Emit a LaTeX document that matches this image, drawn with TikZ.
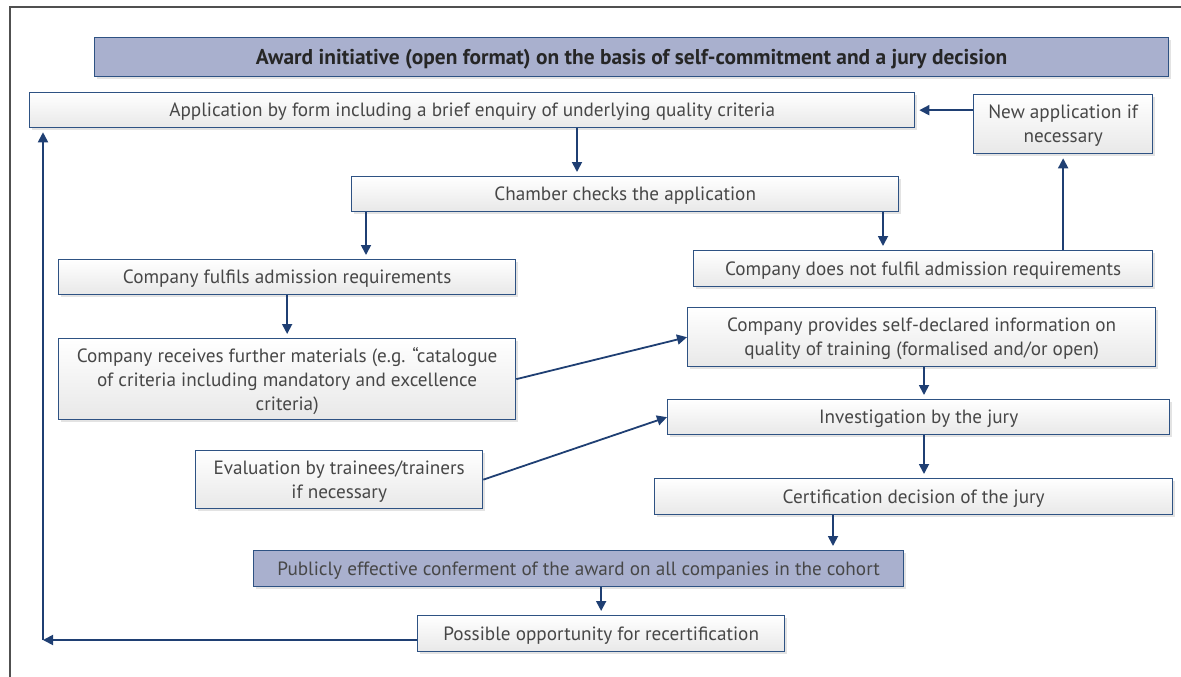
\documentclass[tikz,border=0pt]{standalone}
\usepackage{fontspec}
\setmainfont{PT Sans}
\usetikzlibrary{arrows.meta,shadows}

\definecolor{boxblue}{HTML}{2E5283}
\definecolor{arrowblue}{HTML}{1F3F73}
\definecolor{awardfill}{HTML}{A9B0CE}
\definecolor{textgray}{HTML}{474747}
\definecolor{framegray}{HTML}{505050}

\tikzset{
  stage/.style={draw=boxblue, line width=1.3pt, top color=white, bottom color=black!9,
    drop shadow={shadow xshift=2pt, shadow yshift=-2.5pt, opacity=0.22},
    text=textgray, font=\fontsize{19.2}{24}\selectfont, anchor=north west,
    inner sep=2pt, text depth=0pt, align=center},
  award/.style={stage, top color=awardfill, bottom color=awardfill},
  flow/.style={draw=arrowblue, line width=1.8pt, shorten >=4pt,
    -{Triangle[length=10pt,width=10pt]}},
}

\begin{document}
\begin{tikzpicture}[x=1pt, y=-1pt]
    \useasboundingbox (0,0) rectangle (1181,677) ;
    \draw[framegray, line width=1.2pt] (10,677) -- (10,7) -- (1181,7) ;
% award and application
    \node[award, minimum width=1074pt, minimum height=39pt, text=black!85, font=\fontsize{21.4}{24}\selectfont\bfseries] (title) at (94,37) {Award initiative (open format) on the basis of self-commitment and a jury decision} ; %
    \node[stage, minimum width=885pt, minimum height=35pt] (app) at (29,92) {Application by form including a brief enquiry of underlying quality criteria} ; %
    \node[stage, minimum width=179pt, minimum height=59pt] (newapp) at (973,94) {New application if\\necessary} ; %
    \node[stage, minimum width=547pt, minimum height=35pt] (check) at (351,176) {Chamber checks the application} ; %
% admission
    \node[stage, minimum width=457pt, minimum height=35pt] (fulfil) at (58,259) {Company fulfils admission requirements} ; %
    \node[stage, minimum width=459pt, minimum height=36pt] (nofulfil) at (693,250) {Company does not fulfil admission requirements} ; %
    \node[stage, minimum width=457pt, minimum height=81pt] (material) at (58,338) {Company receives further materials (e.g. ``catalogue\\of criteria including mandatory and excellence\\criteria)} ; %
    \node[stage, minimum width=468pt, minimum height=59pt] (selfdecl) at (687,307) {Company provides self-declared information on\\quality of training (formalised and/or open)} ; %
% jury
    \node[stage, minimum width=502pt, minimum height=35pt] (jury) at (667,399) {Investigation by the jury} ; %
    \node[stage, minimum width=287pt, minimum height=58pt] (evaluation) at (195,450) {Evaluation by trainees/trainers\\if necessary} ; %
    \node[stage, minimum width=518pt, minimum height=36pt] (decision) at (654,478) {Certification decision of the jury} ; %
    \node[award, minimum width=650pt, minimum height=36pt] (conferment) at (253,550) {Publicly effective conferment of the award on all companies in the cohort} ; %
    \node[stage, minimum width=367pt, minimum height=36pt] (recert) at (417,615) {Possible opportunity for recertification} ; %
    \coordinate (corner) at (43,640) ; %
% edges
    \draw[flow] (577,0 |- app.south) -- (577,0 |- check.north) ; %
    \draw[flow] (366,0 |- check.south) -- (366,0 |- fulfil.north) ; %
    \draw[flow] (883,0 |- check.south) -- (883,0 |- nofulfil.north) ; %
    \draw[flow] (nofulfil.north -| newapp.south) -- (newapp.south) ; %
    \draw[flow] (newapp.west |- app.east) -- (app.east) ; %
    \draw[flow] (fulfil.south) -- (material.north) ; %
    \draw[flow, shorten >=0pt] (material.east) -- (selfdecl.west) ; %
    \draw[flow] (924,0 |- selfdecl.south) -- (924,0 |- jury.north) ; %
    \draw[flow, shorten >=0pt] (evaluation.east) -- (jury.west) ; %
    \draw[flow] (924,0 |- jury.south) -- (924,0 |- decision.north) ; %
    \draw[flow] (833,0 |- decision.south) -- (833,0 |- conferment.north) ; %
    \draw[flow] (recert.north |- conferment.south) -- (recert.north) ; %
% recertification loop
    \draw[flow, shorten >=0pt] (recert.west |- corner) -- (corner) ; %
    \draw[flow] (corner) -- (corner |- app.south) ; %
\end{tikzpicture}
\end{document}
